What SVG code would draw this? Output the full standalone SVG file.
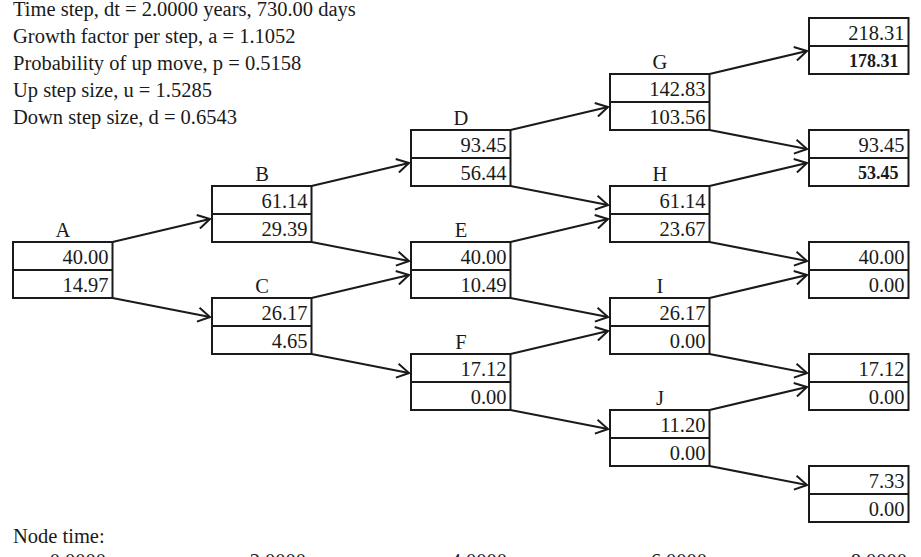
<svg xmlns="http://www.w3.org/2000/svg" width="921" height="557" viewBox="0 0 921 557">
<defs>
<style>
text{font-family:"Liberation Serif","Times New Roman",serif;font-size:20.5px;fill:#1a1a1a}
.lbl{text-anchor:middle}
.val{text-anchor:end}
.b{font-weight:bold;font-size:18px}
rect{fill:#fff;stroke:#1a1a1a;stroke-width:2}
.sep{stroke:#1a1a1a;stroke-width:2}
.con line{stroke:#1a1a1a;stroke-width:2;marker-end:url(#ah)}
</style>
<marker id="ah" viewBox="0 0 14 16" refX="13" refY="8" markerWidth="14" markerHeight="16" markerUnits="userSpaceOnUse" orient="auto">
<path d="M1,1 L13,8 L1,15" fill="none" stroke="#1a1a1a" stroke-width="2"/>
</marker>
</defs>
<rect x="0" y="0" width="921" height="557" style="fill:#fff;stroke:none"/>
<g id="params">
<text x="13" y="15.5">Time step, dt = 2.0000 years, 730.00 days</text>
<text x="13" y="42.5">Growth factor per step, a = 1.1052</text>
<text x="13" y="69.5">Probability of up move, p = 0.5158</text>
<text x="13" y="96.5">Up step size, u = 1.5285</text>
<text x="13" y="123.5">Down step size, d = 0.6543</text>
</g>
<g class="con" id="connectors">
<line x1="112.5" y1="242" x2="210" y2="219"/>
<line x1="112.5" y1="298" x2="210" y2="317"/>
<line x1="311.5" y1="186" x2="409" y2="163"/>
<line x1="311.5" y1="242" x2="409" y2="261"/>
<line x1="311.5" y1="298" x2="409" y2="275"/>
<line x1="311.5" y1="354" x2="409" y2="373"/>
<line x1="510.5" y1="130" x2="608" y2="107"/>
<line x1="510.5" y1="186" x2="608" y2="205"/>
<line x1="510.5" y1="242" x2="608" y2="219"/>
<line x1="510.5" y1="298" x2="608" y2="317"/>
<line x1="510.5" y1="354" x2="608" y2="331"/>
<line x1="510.5" y1="410" x2="608" y2="429"/>
<line x1="709.5" y1="74" x2="807" y2="51"/>
<line x1="709.5" y1="130" x2="807" y2="149"/>
<line x1="709.5" y1="186" x2="807" y2="163"/>
<line x1="709.5" y1="242" x2="807" y2="261"/>
<line x1="709.5" y1="298" x2="807" y2="275"/>
<line x1="709.5" y1="354" x2="807" y2="373"/>
<line x1="709.5" y1="410" x2="807" y2="387"/>
<line x1="709.5" y1="466" x2="807" y2="485"/>
</g>
<g id="nodeA">
<text class="lbl" x="63" y="237">A</text>
<rect x="13" y="242" width="99.5" height="56"/><line class="sep" x1="13" y1="270" x2="112.5" y2="270"/>
<text class="val" x="108.5" y="263.5">40.00</text><text class="val" x="108.5" y="291.5">14.97</text>
</g>
<g id="nodeB">
<text class="lbl" x="262" y="181">B</text>
<rect x="212" y="186" width="99.5" height="56"/><line class="sep" x1="212" y1="214" x2="311.5" y2="214"/>
<text class="val" x="307.5" y="207.5">61.14</text><text class="val" x="307.5" y="235.5">29.39</text>
</g>
<g id="nodeC">
<text class="lbl" x="262" y="293">C</text>
<rect x="212" y="298" width="99.5" height="56"/><line class="sep" x1="212" y1="326" x2="311.5" y2="326"/>
<text class="val" x="307.5" y="319.5">26.17</text><text class="val" x="307.5" y="347.5">4.65</text>
</g>
<g id="nodeD">
<text class="lbl" x="461" y="125">D</text>
<rect x="411" y="130" width="99.5" height="56"/><line class="sep" x1="411" y1="158" x2="510.5" y2="158"/>
<text class="val" x="506.5" y="151.5">93.45</text><text class="val" x="506.5" y="179.5">56.44</text>
</g>
<g id="nodeE">
<text class="lbl" x="461" y="237">E</text>
<rect x="411" y="242" width="99.5" height="56"/><line class="sep" x1="411" y1="270" x2="510.5" y2="270"/>
<text class="val" x="506.5" y="263.5">40.00</text><text class="val" x="506.5" y="291.5">10.49</text>
</g>
<g id="nodeF">
<text class="lbl" x="461" y="349">F</text>
<rect x="411" y="354" width="99.5" height="56"/><line class="sep" x1="411" y1="382" x2="510.5" y2="382"/>
<text class="val" x="506.5" y="375.5">17.12</text><text class="val" x="506.5" y="403.5">0.00</text>
</g>
<g id="nodeG">
<text class="lbl" x="660" y="69">G</text>
<rect x="610" y="74" width="99.5" height="56"/><line class="sep" x1="610" y1="102" x2="709.5" y2="102"/>
<text class="val" x="705.5" y="95.5">142.83</text><text class="val" x="705.5" y="123.5">103.56</text>
</g>
<g id="nodeH">
<text class="lbl" x="660" y="181">H</text>
<rect x="610" y="186" width="99.5" height="56"/><line class="sep" x1="610" y1="214" x2="709.5" y2="214"/>
<text class="val" x="705.5" y="207.5">61.14</text><text class="val" x="705.5" y="235.5">23.67</text>
</g>
<g id="nodeI">
<text class="lbl" x="660" y="293">I</text>
<rect x="610" y="298" width="99.5" height="56"/><line class="sep" x1="610" y1="326" x2="709.5" y2="326"/>
<text class="val" x="705.5" y="319.5">26.17</text><text class="val" x="705.5" y="347.5">0.00</text>
</g>
<g id="nodeJ">
<text class="lbl" x="660" y="405">J</text>
<rect x="610" y="410" width="99.5" height="56"/><line class="sep" x1="610" y1="438" x2="709.5" y2="438"/>
<text class="val" x="705.5" y="431.5">11.20</text><text class="val" x="705.5" y="459.5">0.00</text>
</g>
<g id="final1">
<rect x="809" y="18" width="99.5" height="56"/><line class="sep" x1="809" y1="46" x2="908.5" y2="46"/>
<text class="val" x="904.5" y="39.5">218.31</text><text class="val b" x="898.5" y="67">178.31</text>
</g>
<g id="final2">
<rect x="809" y="130" width="99.5" height="56"/><line class="sep" x1="809" y1="158" x2="908.5" y2="158"/>
<text class="val" x="904.5" y="151.5">93.45</text><text class="val b" x="898.5" y="179">53.45</text>
</g>
<g id="final3">
<rect x="809" y="242" width="99.5" height="56"/><line class="sep" x1="809" y1="270" x2="908.5" y2="270"/>
<text class="val" x="904.5" y="263.5">40.00</text><text class="val" x="904.5" y="291.5">0.00</text>
</g>
<g id="final4">
<rect x="809" y="354" width="99.5" height="56"/><line class="sep" x1="809" y1="382" x2="908.5" y2="382"/>
<text class="val" x="904.5" y="375.5">17.12</text><text class="val" x="904.5" y="403.5">0.00</text>
</g>
<g id="final5">
<rect x="809" y="466" width="99.5" height="56"/><line class="sep" x1="809" y1="494" x2="908.5" y2="494"/>
<text class="val" x="904.5" y="487.5">7.33</text><text class="val" x="904.5" y="515.5">0.00</text>
</g>
<g id="times">
<text x="13" y="543">Node time:</text>
<text class="val" x="106" y="568">0.0000</text>
<text class="val" x="306" y="568">2.0000</text>
<text class="val" x="507" y="568">4.0000</text>
<text class="val" x="707" y="568">6.0000</text>
<text class="val" x="907" y="568">8.0000</text>
</g>
</svg>
